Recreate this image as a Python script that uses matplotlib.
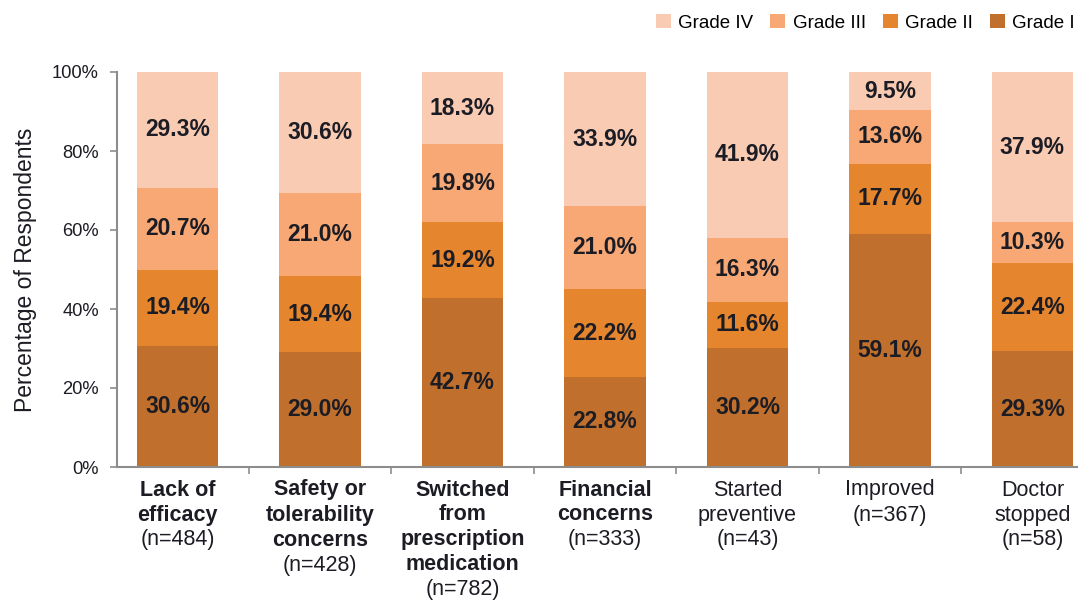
import matplotlib
matplotlib.use("Agg")
import matplotlib.pyplot as plt
import numpy as np

plt.rcParams["font.family"] = ["Liberation Sans", "DejaVu Sans"]

# data (percent of respondents)
CATEGORIES = [
    "Lack of\nefficacy",
    "Safety or\ntolerability\nconcerns",
    "Switched\nfrom\nprescription\nmedication",
    "Financial\nconcerns",
    "Started\npreventive",
    "Improved",
    "Doctor\nstopped",
]
N_RESP = [484, 428, 782, 333, 43, 367, 58]
BOLD = [True, True, True, True, False, False, False]

GRADES = ["Grade I", "Grade II", "Grade III", "Grade IV"]
GRADE_I = [30.6, 29.0, 42.7, 22.8, 30.2, 59.1, 29.3]
GRADE_II = [19.4, 19.4, 19.2, 22.2, 11.6, 17.7, 22.4]
GRADE_III = [20.7, 21.0, 19.8, 21.0, 16.3, 13.6, 10.3]
GRADE_IV = [29.3, 30.6, 18.3, 33.9, 41.9, 9.5, 37.9]

COLORS = ["#C0702C", "#E5862E", "#F7A874", "#FACBB3"]
TEXT = "#1c1c24"
AXIS = "#8c8c8c"


def main():
    fig = plt.figure(figsize=(10.78, 6.01), dpi=100)
    ax = fig.add_axes([117 / 1078, 1 - 467 / 601, (1078 - 117) / 1078, (467 - 72) / 601])

    x = np.arange(len(CATEGORIES))
    bottom = np.zeros(len(x))
    handles = []
    for name, vals, col in zip(GRADES, [GRADE_I, GRADE_II, GRADE_III, GRADE_IV], COLORS):
        bars = ax.bar(x, vals, 0.572, bottom=bottom, color=col, label=name, linewidth=0)
        ax.bar_label(bars, labels=[f"{v:.1f}%" for v in vals], label_type="center",
                     fontsize=16.5, fontweight="bold", color=TEXT)
        bottom += np.array(vals)
        handles.append(bars)

    ax.set_xlim(-0.425, 6.32)
    ax.set_ylim(0, 100)
    ax.set_yticks(range(0, 101, 20))
    ax.set_yticklabels([f"{v}%" for v in range(0, 101, 20)], fontsize=13.2, color=TEXT)
    ax.set_xticks(np.arange(0.5, 6, 1))
    ax.set_xticklabels([])

    for s in ["top", "right"]:
        ax.spines[s].set_visible(False)
    for s in ["left", "bottom"]:
        ax.spines[s].set_color(AXIS)
        ax.spines[s].set_linewidth(1.5)
    ax.tick_params(axis="both", color=AXIS, width=1.2, length=5, direction="out")
    ax.tick_params(axis="y", pad=8)

    ax.set_ylabel("Percentage of Respondents", fontsize=16.5, color=TEXT)
    ax.yaxis.set_label_coords(-0.083, 0.5)

    # category labels: bold/normal name lines then the (n=...) line
    step = 25.0 * 0.72
    first = 28.5 * 0.72
    for i, (cat, n, b) in enumerate(zip(CATEGORIES, N_RESP, BOLD)):
        lines = cat.split("\n")
        for k, line in enumerate(lines + [f"(n={n})"]):
            weight = "bold" if (b and k < len(lines)) else "normal"
            ax.annotate(line, xy=(i, 0), xycoords=("data", "axes fraction"),
                        xytext=(0, -(first + k * step)), textcoords="offset points",
                        ha="center", va="baseline", fontsize=15.5,
                        fontweight=weight, color=TEXT, annotation_clip=False)

    fig.legend(handles[::-1], GRADES[::-1], ncol=4, loc="upper right",
               bbox_to_anchor=(1075 / 1078, 1 - 14 / 601), frameon=False,
               fontsize=13.5, handlelength=0.8, handleheight=0.8,
               handletextpad=0.4, columnspacing=0.9, borderaxespad=0, borderpad=0)

    fig.savefig("out.png", dpi=100)


if __name__ == "__main__":
    main()
